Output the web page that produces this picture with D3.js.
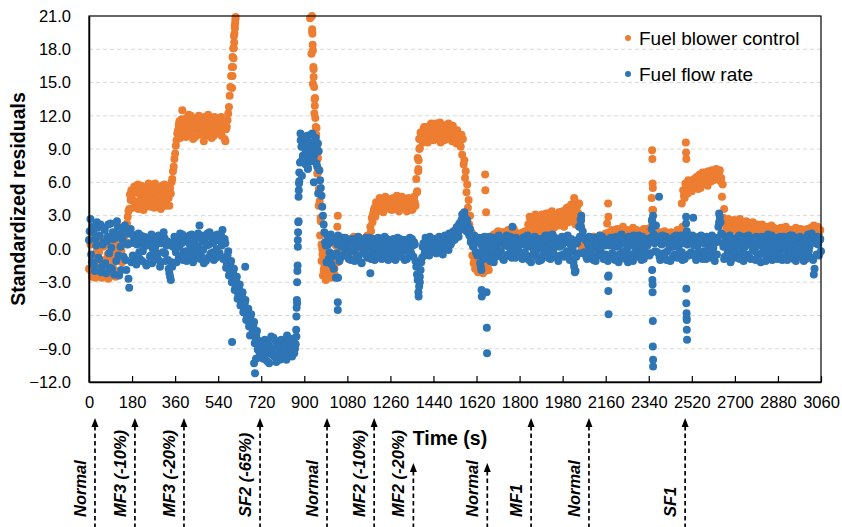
<!DOCTYPE html>
<html>
<head>
<meta charset="utf-8">
<script src="https://cdn.jsdelivr.net/npm/d3@7/dist/d3.min.js"></script>
<style>
  body { margin: 0; background: #fff; }
  svg { display: block; font-family: "Liberation Sans", Arial, sans-serif; }
</style>
</head>
<body>
<svg id="chart" width="842" height="527"></svg>
<script>
// Logged residuals. The "Even" arrays hold samples at t = 0, 6, 12 ... 3060 s,
// the "Odd" arrays the interleaved samples at t = 3, 9, 15 ... 3057 s.
// null = residual above the plotted range.
const sampleStep = 6;

const blowerEven = [
  -1.8, 0.4, -2.5, -0.6, -1.4, 0.9, -2.2, -0.3, -1.7, -2.6, 0.2, -1.0, -2.3, -0.5, -1.9, 0.6, -2.4, -1.2, -0.2, -2.0, 0.5, -0.4, 1.0, -1.2, 0.7, 1.2, 1.8, 2.9, 3.6, 4.4,
  4.9, 3.7, 5.4, 4.2, 5.8, 3.9, 4.6, 5.2, 3.5, 4.8, 5.6, 4.1, 5.0, 3.8, 5.5, 4.4, 5.9, 4.0, 5.3, 4.7, 3.6, 5.7, 4.3, 5.1, 4.5, 5.4, 3.9, 5.0, 6.3, 7.4,
  8.6, 9.8, 10.7, 11.5, 10.2, 12.5, 11.0, 10.6, 11.8, 10.3, 11.4, 12.0, 10.8, 11.2, 10.1, 11.7, 10.5, 11.9, 10.9, 11.3, 9.7, 11.6, 10.4, 12.1, 11.1, 10.7, 11.8, 10.2, 11.4, 10.9,
  11.2, 10.4, 11.9, 10.8, 11.5, 9.7, 11.0, 12.2, 13.8, 15.6, 17.3, 19.2, 20.7, null, null, null, null, null, null, null, null, null, null, null, null, null, null, null, null,
  null, null, null, null, null, null, null, null, null, null, null, null, null, null, null, null, null, null, null, null, null, null, null, null, null, null, null, null, null, null,
  null, null, null, null, null, 20.8, 17.6, 14.9, 12.2, 9.6, 6.8, 3.9, 1.2, -1.1, -2.4, -1.6, -2.7, -0.8, -2.1, -1.3, -2.6, -0.5, -1.8, 0.3, -0.7, 0.6, -0.4, 0.9, -0.2, 0.5,
  0.4, -0.6, 0.8, 0.1, -0.3, 1.0, -0.8, 0.5, 0.2, -0.5, 0.7, 0.0, 0.9, -0.4, 0.6, 1.2, 0.3, 2.0, 2.8, 3.2, 3.7, 4.2, 3.4, 4.0, 3.6, 4.5, 3.3, 4.1, 3.8, 4.4,
  3.9, 4.3, 3.5, 4.6, 4.0, 3.7, 4.4, 3.4, 4.1, 4.7, 3.8, 4.2, 3.6, 4.5, 3.9, 4.0, 3.5, 4.3, 4.2, 6.3, 8.2, 9.9, 10.5, 9.9, 10.8, 10.2, 11.0, 9.6, 10.6, 11.2,
  10.9, 9.8, 10.5, 11.1, 10.0, 10.7, 9.6, 11.2, 10.3, 10.8, 9.9, 10.6, 11.0, 10.2, 9.7, 10.5, 10.1, 9.5, 10.4, 9.8, 9.2, 8.5, 7.6, 6.4, 5.1, 3.7, 2.2, 0.9, -0.6, -1.3,
  -1.8, -0.7, -2.1, -1.2, -0.4, -1.6, -0.9, -2.0, -0.6, -1.4, 0.3, 0.9, 0.2, 1.3, 0.6, 1.0, 1.6, 0.4, 1.2, 0.8, 1.5, 0.5, 1.1, 1.7, 0.7, 1.3, 0.9, 1.8, 1.2, 1.4,
  0.9, 1.4, 0.6, 1.2, 1.0, 1.6, 0.8, 2.2, 2.9, 1.6, 2.5, 1.9, 3.1, 2.0, 2.7, 1.4, 2.4, 3.0, 1.8, 2.6, 2.2, 3.2, 1.7, 2.8, 2.3, 1.9, 3.0, 2.5, 2.1, 3.3,
  2.6, 3.4, 2.0, 2.9, 3.7, 2.4, 3.1, 4.0, 2.7, 4.6, 2.2, 3.8, 3.2, 0.8, 0.2, 0.7, -0.3, 0.5, 1.0, 0.3, 0.8, -0.1, 0.6, 1.1, 0.4, 0.9, 0.2, 1.2, 0.5, 0.7,
  0.9, 1.4, 2.3, 0.6, 1.1, 1.6, 0.8, 1.3, 0.5, 1.8, 1.0, 1.5, 0.7, 2.0, 1.2, 0.9, 1.7, 1.1, 0.6, 1.4, 1.9, 0.8, 1.3, 1.6, 1.0, 0.7, 1.5, 1.2, 0.9, 1.8,
  1.2, 0.8, 1.9, 4.6, 2.2, 1.0, 0.6, 1.3, 0.9, 1.5, 0.7, 1.1, 1.6, 0.5, 1.2, 0.8, 1.4, 1.0, 0.6, 1.3, 0.9, 1.7, 1.1, 0.7, 4.1, 5.3, 4.6, 5.8, 5.0, 5.5,
  5.9, 5.2, 6.1, 5.6, 6.4, 5.8, 6.2, 5.5, 6.6, 6.0, 6.9, 6.3, 5.7, 6.8, 6.4, 7.1, 6.2, 6.7, 7.2, 6.5, 6.9, 6.1, 4.7, 2.8, 2.3, 1.8, 2.5, 1.6, 2.2, 2.0,
  2.4, 1.7, 2.1, 1.5, 2.6, 1.9, 1.4, 2.2, 1.8, 2.5, 1.3, 2.0, 1.6, 2.3, 1.2, 1.9, 1.5, 2.1, 1.4, 1.8, 2.2, 1.3, 1.7, 1.1, 2.0, 1.5, 1.6, 1.2, 1.9, 1.4,
  1.7, 1.2, 1.5, 1.9, 1.1, 1.6, 1.3, 1.8, 1.0, 1.5, 1.2, 1.7, 1.4, 0.9, 1.6, 1.3, 1.1, 1.8, 1.4, 1.0, 1.5, 1.2, 1.7, 1.3, 1.9, 1.6, 2.1, 1.2, 1.5, 1.1,
  0.8
];

const blowerOdd = [
  0.8, -2.0, -0.9, 1.2, -2.6, -0.2, 0.5, -1.5, 0.9, -2.2, -1.1, 0.4, -1.8, -2.7, 0.7, -0.8, -1.6, 0.3, -2.5, -0.4, -1.0, 0.8, -0.2, 0.4, 1.5, 0.6, 2.3, 3.4, 4.9, 5.3,
  4.4, 5.6, 4.0, 5.1, 3.6, 4.9, 5.7, 4.3, 5.3, 3.8, 4.5, 5.9, 4.2, 5.2, 4.7, 3.7, 5.0, 5.6, 4.1, 5.4, 4.8, 4.0, 5.8, 3.9, 5.2, 4.6, 5.5, 6.0, 7.0, 8.1,
  9.3, 10.4, 11.2, 10.0, 11.7, 10.9, 11.5, 10.1, 11.0, 12.1, 10.6, 11.3, 9.9, 11.6, 10.8, 11.1, 12.0, 10.3, 11.5, 10.7, 11.9, 10.2, 11.3, 10.6, 11.7, 10.0, 11.2, 11.9, 10.5, 11.6,
  10.9, 11.7, 10.2, 11.3, 9.9, 10.8, 11.6, 12.8, 14.6, 16.4, 18.1, 20.1, null, null, null, null, null, null, null, null, null, null, null, null, null, null, null, null, null, null,
  null, null, null, null, null, null, null, null, null, null, null, null, null, null, null, null, null, null, null, null, null, null, null, null, null, null, null, null, null, null,
  null, null, null, null, null, 19.6, 16.2, 13.6, 10.9, 8.2, 5.3, 2.5, 0.0, -1.9, -2.2, -2.5, -1.4, -2.3, -0.9, -2.0, -1.5, -2.4, -0.6, -1.2, 0.2, -0.8, 0.4, -0.5, 0.8, -0.1,
  -0.3, 0.9, -0.5, 0.6, 1.1, -0.2, 0.4, -0.7, 1.0, 0.3, -0.4, 0.8, 0.1, 1.1, -0.6, 0.5, 1.6, 2.4, 3.5, 2.9, 4.0, 3.6, 4.6, 3.8, 4.3, 3.5, 4.7, 3.9, 4.2, 3.6,
  4.5, 3.6, 4.2, 3.9, 4.8, 3.5, 4.1, 4.6, 3.7, 4.3, 4.0, 3.4, 4.6, 3.8, 4.4, 3.6, 4.7, 3.9, 5.1, 7.2, 9.1, 10.3, 9.6, 11.0, 10.4, 9.8, 10.9, 10.3, 11.3, 10.1,
  10.3, 11.3, 9.9, 10.7, 11.4, 10.1, 10.8, 9.8, 11.1, 10.4, 11.3, 10.0, 10.6, 11.1, 10.4, 9.8, 10.7, 10.2, 9.7, 10.3, 9.9, 8.0, 7.0, 5.8, 4.4, 3.0, 1.5, 0.2, -1.0, -0.4,
  -0.9, -1.9, -0.5, -1.5, -2.2, -0.8, -1.7, -1.1, -1.9, -0.3, 0.6, 1.1, 0.5, 1.4, 0.8, 1.2, 0.3, 1.5, 1.0, 0.6, 1.3, 0.9, 1.6, 0.4, 1.2, 1.0, 1.5, 0.8, 1.4, 1.0,
  1.2, 0.7, 1.5, 0.9, 1.3, 1.1, 1.8, 2.6, 1.9, 2.8, 2.1, 2.7, 1.6, 2.9, 2.3, 3.1, 1.8, 2.6, 3.2, 2.1, 2.9, 2.4, 3.4, 2.0, 3.0, 2.6, 2.2, 3.3, 2.7, 2.3,
  3.1, 2.3, 3.6, 2.8, 3.0, 3.9, 2.5, 3.5, 4.3, 3.3, 2.9, 4.1, 2.4, 0.5, 0.9, 0.1, 0.8, 0.4, -0.2, 0.9, 0.5, 1.1, 0.3, 0.7, 1.0, 0.2, 0.8, 0.6, 1.1, 0.4,
  1.2, 0.7, 1.5, 1.0, 1.7, 0.8, 1.4, 1.1, 1.6, 0.9, 1.3, 1.8, 1.0, 1.4, 0.8, 1.6, 1.2, 0.7, 1.5, 1.1, 1.3, 1.7, 0.9, 1.2, 1.5, 1.0, 1.8, 0.8, 1.4, 1.1,
  0.9, 1.4, 3.5, 2.0, 1.2, 0.8, 1.4, 1.0, 1.2, 0.9, 1.5, 0.8, 1.3, 1.0, 0.7, 1.5, 1.1, 0.8, 1.4, 1.0, 1.3, 0.9, 1.5, 2.0, 4.8, 5.9, 5.1, 6.2, 5.4, 6.0,
  5.6, 6.3, 5.9, 6.5, 5.4, 6.7, 6.0, 6.9, 6.2, 6.6, 5.9, 7.0, 6.5, 6.1, 6.9, 6.6, 7.0, 6.3, 6.8, 7.1, 6.4, 5.8, 3.6, 2.6, 2.1, 2.7, 1.9, 2.4, 1.8, 2.6,
  1.9, 2.3, 1.6, 2.7, 1.8, 2.2, 2.0, 1.5, 2.3, 1.7, 2.1, 1.4, 2.4, 1.8, 1.6, 2.2, 1.3, 1.9, 1.7, 2.0, 1.5, 1.9, 1.2, 1.8, 1.4, 2.1, 1.3, 1.7, 1.5, 1.8,
  1.4, 1.8, 1.1, 1.6, 1.3, 2.0, 1.2, 1.5, 1.7, 1.1, 1.6, 1.3, 1.9, 1.2, 1.5, 1.0, 1.7, 1.3, 1.6, 1.2, 1.8, 1.4, 1.1, 1.6, 1.4, 1.8, 1.5, 2.0, 1.3, 1.7
];

const flowEven = [
  0.8, 2.7, -1.2, 1.5, -2.0, 0.3, 1.9, -0.9, 2.2, -1.6, 0.6, 1.7, -2.2, 1.1, -0.4, 2.3, -1.8, 0.9, 1.4, -1.1, 2.0, -2.4, 0.2, 1.6, -0.7, 2.1, -1.9, 0.4, -3.5, 1.8,
  1.3, -0.8, 0.5, -1.4, 0.9, -0.3, 1.2, -1.1, 0.2, 0.8, -1.5, 0.4, 1.0, -0.6, -1.3, 0.7, 0.1, 1.1, -0.9, 0.5, -1.2, 0.9, 1.5, -0.4, 0.3, -1.0, -2.2, -2.8, -1.6, 0.6,
  0.4, -1.2, 1.0, 0.2, -0.7, 1.3, -0.3, 0.8, -1.1, 0.6, 1.2, -0.5, 0.1, -0.9, 0.9, -0.2, 1.4, 2.1, -0.6, 0.7, -1.3, 1.1, 0.3, -0.8, 1.5, -0.4, 0.5, -1.0, 1.2, 0.0,
  0.8, -0.4, 1.2, 1.7, -0.8, 0.5, -1.3, -0.2, -2.0, -1.1, -2.7, -1.8, -3.3, -2.5, -4.1, -3.2, -4.8, -3.9, -5.3, -4.6, -6.1, -5.4, -6.8, -5.9, -7.3, -6.6, -8.0, -7.4, -8.8, -9.5,
  -9.2, -8.4, -9.8, -8.9, -10.1, -8.6, -9.4, -7.9, -9.0, -9.7, -8.3, -9.1, -8.7, -10.0, -8.2, -9.5, -8.8, -9.3, -7.8, -9.6, -8.5, -9.0, -8.1, -9.4, -8.6, -4.9, 2.5, 7.8, 9.2, 8.4,
  9.4, 7.6, 10.2, 8.3, 9.6, 7.9, 9.1, 8.5, 10.0, 7.4, 8.8, 6.2, 4.8, 3.0, 1.5, 0.3, 1.2, -0.9, 0.6, -1.4, 0.9, -0.5, -2.6, 0.4, 1.1, -0.8, 0.2, 1.0, -0.6, 0.5,
  0.3, -0.9, 0.8, -0.2, 0.5, -1.1, 0.1, 0.9, -0.6, 0.4, -1.3, 0.7, -0.1, 1.0, -0.8, 0.2, -2.2, -0.4, 0.9, -1.0, 0.3, -0.5, 0.8, 0.0, -0.9, 0.5, 1.1, -0.3, 0.4, -0.7,
  0.5, -0.4, 0.9, -0.8, 0.2, 1.0, -0.6, 0.4, -0.2, 0.8, -1.0, 0.3, 0.7, -0.5, 0.1, 0.9, -0.7, 0.4, -1.6, -2.8, -3.4, -1.9, -0.8, 0.5, -0.3, 0.8, 0.2, -0.6, 0.9, 0.1,
  0.3, 0.9, -0.4, 0.6, 1.1, -0.2, 0.8, 0.3, 1.2, 0.0, 0.7, 1.4, 0.4, 1.0, 1.6, 0.9, 1.9, 1.4, 2.3, 1.8, 3.1, 2.4, 2.8, 1.6, 2.1, 1.2, 0.6, 1.0, 0.2, 0.8,
  0.6, -0.5, 1.0, -1.6, 0.2, -0.9, 0.8, -0.3, 0.5, 1.1, -0.7, 0.4, -1.2, 0.9, 0.1, -0.6, 1.0, -0.2, 0.7, -1.0, 0.3, 1.2, -0.5, 0.6, -0.1, 2.0, 0.4, -0.8, 0.9, 0.2,
  -0.3, 0.8, -0.9, 0.4, 1.1, -0.6, 0.2, 0.9, -1.2, 0.5, -0.1, 1.0, -0.7, 0.3, 0.8, -1.0, 0.6, -0.4, 1.2, 0.1, -0.8, 0.7, -0.2, 1.3, -0.5, 0.4, 0.9, -1.1, 0.2, 0.7,
  0.4, -0.7, 1.0, -0.2, 0.6, -1.0, 0.9, 0.1, -1.6, -2.0, 0.5, -0.4, 1.1, 3.0, 1.6, -0.3, 0.8, -0.9, 0.3, 1.0, -0.6, 0.2, 0.7, -1.1, 0.5, -0.2, 1.2, -0.5, 0.4, 0.9,
  -0.5, 0.8, -2.4, 0.3, -0.8, 1.0, 0.2, -0.6, 0.9, -1.2, 0.4, 1.3, -0.3, 0.7, -0.9, 0.1, 1.1, -0.5, 0.6, -1.1, 0.9, 0.2, -0.7, 1.2, 0.0, -1.0, 0.5, 0.8, -0.4, 0.3,
  0.6, -0.4, 1.8, 3.0, 0.5, 2.1, -0.3, 0.9, -1.0, 0.4, 0.8, -0.6, 1.1, -0.2, 0.5, -1.1, 0.9, 0.2, -0.5, 1.2, -0.8, 0.3, 0.7, -0.3, 1.0, -0.9, 2.9, 0.4, -0.6, 0.8,
  -0.4, 2.8, 0.6, -1.0, 0.3, 1.1, -0.5, 0.8, -0.2, 1.0, -0.9, 0.4, 0.7, -0.6, 1.2, 0.1, -1.1, 0.6, 0.9, 3.2, 2.4, 1.3, 0.2, -0.7, 1.0, -0.3, 0.5, -1.2, 0.8, 0.0,
  0.7, -0.8, 0.3, 1.2, -0.4, 0.9, -1.1, 0.2, 0.6, -0.5, 1.0, -0.9, 0.4, 0.8, -0.2, 1.1, -0.7, 0.3, -1.2, 0.9, 0.1, 0.6, -0.6, 1.3, -0.3, 0.5, -1.0, 0.8, 0.2, -0.4,
  0.9, -0.5, 0.4, -1.0, 1.1, 0.2, -0.6, 0.8, -0.3, 0.5, 1.2, -0.9, 0.3, -0.2, 1.0, -0.7, 0.6, 0.1, -1.1, 0.9, -0.4, 1.3, 0.2, -0.8, 0.7, -2.3, 1.0, -0.5, 0.4, 0.8,
  -0.2
];

const flowOdd = [
  1.6, -0.5, 2.0, -1.5, 0.9, 2.4, -0.8, 1.2, -2.1, 0.4, 1.9, -1.3, 0.7, 2.2, -1.7, 0.1, 1.5, -2.3, 1.0, 2.5, -0.6, 1.3, -1.9, 0.8, 2.0, -1.0, 1.4, -2.7, 0.5, -1.2,
  -0.6, 1.0, -1.2, 0.4, 1.4, -0.9, 0.6, -0.2, 1.1, -1.3, 0.3, 0.9, -0.7, 1.3, 0.0, -1.0, 0.8, -0.4, 1.2, -1.6, 0.5, -0.3, 1.0, -1.1, 0.7, -1.8, -2.5, -1.2, 0.2, 1.1,
  -0.3, 0.9, -0.8, 1.4, 0.5, -1.0, 0.7, -0.2, 1.1, -0.6, 0.3, 1.3, -1.2, 0.6, -0.4, 1.0, 0.2, -0.9, 1.2, -0.1, 0.8, -1.1, 1.4, 0.4, -0.5, 1.0, -0.3, 0.7, -0.8, 1.3,
  -0.6, 1.0, 0.3, -0.9, 0.9, -1.7, -0.6, -2.4, -1.4, -3.0, -2.2, -3.7, -2.9, -4.5, -3.5, -5.1, -4.2, -5.7, -4.9, -6.4, -5.7, -7.0, -6.3, -7.7, -7.0, -8.5, -7.8, -9.1, -8.3, -9.8,
  -8.7, -9.9, -8.2, -9.3, -8.5, -10.3, -8.9, -9.5, -8.0, -9.2, -10.2, -8.6, -9.4, -8.3, -9.8, -8.7, -9.1, -10.0, -8.4, -9.2, -8.8, -9.7, -8.3, -9.0, -7.9, 0.2, 6.1, 9.8, 8.0, 10.1,
  8.2, 9.9, 7.3, 9.0, 8.6, 10.4, 8.0, 9.3, 7.7, 9.5, 7.1, 5.5, 3.8, 2.2, 0.6, -1.2, 0.4, -0.3, 1.3, -0.7, -1.8, 0.8, -0.4, 1.2, -1.1, 0.3, 0.9, -0.5, 1.0, -0.2,
  -0.4, 0.6, -1.0, 0.9, -0.2, 0.4, -0.7, 1.1, 0.2, -1.2, 0.6, -0.3, 0.8, -0.6, 0.3, 1.0, -0.9, 0.5, -0.1, 0.7, -0.8, 1.0, -0.4, 0.6, 0.2, -0.6, 0.3, 0.9, -1.0, 0.5,
  -0.2, 0.7, 0.1, -1.0, 0.6, -0.3, 0.9, -0.7, 0.5, -0.1, 0.8, -0.9, 0.2, 1.0, -0.4, 0.3, 0.6, -1.1, -2.3, -3.9, -2.5, -1.2, 0.2, -0.6, 1.0, -0.2, 0.6, 1.1, -0.3, 0.7,
  0.8, -0.3, 0.5, 1.0, 0.1, 0.7, -0.5, 1.1, 0.4, 0.9, -0.1, 1.2, 0.6, 1.5, 0.8, 1.3, 2.0, 1.1, 1.7, 2.6, 2.2, 3.3, 1.9, 2.6, 1.4, 1.8, 0.9, 0.3, 1.2, -0.3,
  -0.6, 0.9, -1.3, 0.4, -0.3, 1.1, -0.8, 0.6, 0.0, -1.1, 0.8, -0.4, 1.0, -0.7, 0.5, 1.2, -0.3, 0.9, -0.9, 0.4, 1.0, -0.6, 0.2, 1.1, -0.8, 0.6, -0.2, 1.0, -0.5, 0.7,
  0.6, -0.7, 1.0, -0.3, 0.5, 1.2, -1.0, 0.3, 0.8, -0.5, 1.1, -0.2, 0.6, -1.1, 0.9, 0.1, -0.6, 1.0, -0.4, 0.7, 1.2, -0.9, 0.4, -0.1, 1.0, -0.7, 0.3, 0.8, -0.6, 1.1,
  -0.5, 0.9, -0.3, 1.2, -0.8, 0.4, -0.2, -1.2, -2.1, -0.7, 0.8, 2.0, 2.6, 1.1, -0.4, 0.9, -0.7, 0.5, 1.1, -0.3, 0.6, -1.0, 1.0, 0.2, -0.6, 0.8, -0.2, 1.1, -0.9, 0.3,
  0.7, -1.1, 0.4, 1.0, -0.4, 0.6, -1.0, 1.1, 0.2, -0.5, 0.8, -0.8, 1.0, -0.2, 0.5, -1.2, 0.9, 0.3, -0.7, 1.2, -0.3, 0.6, 1.0, -0.6, 0.4, 1.1, -0.9, 0.2, 0.9, -0.5,
  -0.6, 1.0, 2.4, 1.3, -0.2, 0.8, 1.1, -0.7, 0.5, 1.2, -0.4, 0.7, -1.0, 0.9, 0.1, 0.6, -0.8, 1.1, 0.3, -0.6, 0.9, -0.2, 1.2, -1.0, 0.5, 0.8, 1.6, -0.5, 1.0, -0.3,
  1.2, 0.3, -0.7, 1.0, -0.3, 0.6, 1.2, -0.9, 0.5, -0.4, 1.1, 0.2, -0.8, 0.9, -0.2, 0.7, 1.0, -0.5, 2.0, 2.9, 1.4, 0.5, -0.9, 1.1, 0.3, -0.6, 1.2, 0.4, -0.8, 0.9,
  -0.3, 1.0, 0.5, -0.9, 0.8, -0.2, 1.1, -0.6, 0.4, 1.2, -0.8, 0.6, -0.1, 1.0, -1.0, 0.3, 0.9, -0.5, 1.1, -0.3, 0.7, -1.1, 0.8, 0.2, -0.7, 1.2, 0.4, -0.4, 1.0, -0.9,
  -0.2, 1.1, -0.8, 0.6, 0.0, 1.0, -1.0, 0.4, 1.2, -0.6, 0.2, 0.9, -1.1, 0.7, -0.3, 1.1, -0.5, 0.8, 0.3, -0.9, 1.0, -0.2, 0.6, 1.4, -1.0, -1.8, 0.5, 1.1, -0.6, 0.9
];

// Additional samples logged during fast transients: [time (s), residual]
const blowerTransients = [
  [598, 14.5], [600, 15.6], [602, 16.4], [604, 17.2], [605, 18.1], [607, 18.6], [608, 19.4], [610, 19.9], [611, 20.4], [613, 20.9],
  [932, 21.0], [933, 19.8], [934, 19.4], [935, 18.4], [936, 17.9], [938, 16.4], [939, 15.5], [941, 14.6], [943, 13.5], [944, 12.9],
  [946, 11.8], [948, 11.0], [950, 10.3], [952, 9.2], [955, 8.1], [958, 6.9], [961, 5.4], [964, 4.3], [968, 2.8], [972, 0.4], [976, -0.5], [990, -2.8],
  [1038, 2.0], [1040, 3.0],
  [1372, 5.2], [1376, 7.0], [1378, 8.0], [1381, 9.0],
  [1656, 6.7], [1657, 5.3], [1660, 3.3],
  [2170, 4.1], [2171, 2.9],
  [2354, 8.9], [2355, 8.1], [2356, 5.9], [2357, 5.5], [2358, 3.5],
  [2495, 9.6], [2496, 8.7], [2497, 8.1]
];

const flowTransients = [
  [598, -8.4], [653, -1.6], [673, -7.8], [690, -10.3], [694, -11.2], [698, -9.9],
  [866, -7.3], [867, -6.1], [868, -5.3], [869, -4.6], [870, -3.0], [871, -2.0], [872, -1.5], [873, 0.8], [874, 1.5], [875, 2.4],
  [876, 4.7], [877, 5.3], [878, 5.9], [879, 6.9],
  [884, 10.4], [890, 6.6], [896, 9.9], [905, 8.9], [915, 7.2], [927, 10.3], [940, 6.0], [952, 9.3], [958, 5.0],
  [1040, -4.8], [1040, -5.5], [1041, -2.6],
  [1378, -4.3], [1383, -3.0],
  [1640, -1.9], [1641, -3.7], [1642, -4.3], [1662, -3.9], [1663, -7.1], [1664, -9.4],
  [2057, 2.6], [2057, 2.0],
  [2170, -2.5], [2171, -3.8], [2172, -5.9],
  [2353, 2.6], [2354, -1.9], [2355, -2.8], [2356, -3.2], [2356, -3.9], [2357, -6.5], [2357, -8.8], [2358, -10.0], [2358, -10.6], [2383, 4.7],
  [2496, 2.3], [2497, -3.6], [2497, -4.9], [2498, -5.8], [2498, -6.2], [2499, -6.4], [2499, -7.3], [2500, -8.2],
  [2634, 2.4]
];

const seriesNames = ["Fuel blower control", "Fuel flow rate"];
const xTickValues = [0, 180, 360, 540, 720, 900, 1080, 1260, 1440, 1620, 1800, 1980, 2160, 2340, 2520, 2700, 2880, 3060];
const yTickValues = [-12, -9, -6, -3, 0, 3, 6, 9, 12, 15, 18, 21];

// Operating-condition events marked under the time axis
const eventLabels = ["Normal", "MF3 (-10%)", "MF3 (-20%)", "SF2 (-65%)", "Normal", "MF2 (-10%)", "MF2 (-20%)", "Normal", "MF1", "Normal", "SF1"];
const eventTimes = [25, 192, 397, 715, 995, 1192, 1356, 1665, 1848, 2090, 2492];

// ---------------------------------------------------------------------------
const W = 842, H = 527;
const plot = { left: 89, right: 821, top: 16, bottom: 382 };
const colors = ["#ED7D31", "#2E75B6"];

const svg = d3.select("#chart");

const x = d3.scaleLinear().domain([0, 3060]).range([plot.left, plot.right]);
const y = d3.scaleLinear().domain([-12, 21]).range([plot.bottom, plot.top]);

function toPoints(even, odd, transients) {
  const pts = [];
  even.forEach((v, i) => pts.push({ t: i * sampleStep, v }));
  odd.forEach((v, i) => pts.push({ t: i * sampleStep + sampleStep / 2, v }));
  transients.forEach(([t, v]) => pts.push({ t, v }));
  pts.sort((a, b) => a.t - b.t);
  return pts.filter(d => d.v !== null && d.v >= -12 && d.v <= 21);
}
const series = [
  toPoints(blowerEven, blowerOdd, blowerTransients),
  toPoints(flowEven, flowOdd, flowTransients)
];

// horizontal grid
svg.append("g")
  .selectAll("line")
  .data(yTickValues.filter(v => v > -12 && v < 21))
  .join("line")
  .attr("x1", plot.left).attr("x2", plot.right)
  .attr("y1", d => y(d)).attr("y2", d => y(d))
  .attr("stroke", "#d9d9d9")
  .attr("stroke-width", 1)
  .attr("stroke-dasharray", "4,3");

// scatter marks: blower first, flow rate drawn on top
series.forEach((pts, k) => {
  svg.append("g")
    .selectAll("circle")
    .data(pts)
    .join("circle")
    .attr("cx", d => x(d.t))
    .attr("cy", d => y(d.v))
    .attr("r", 4)
    .attr("fill", colors[k]);
});

// plot frame
svg.append("rect")
  .attr("x", plot.left).attr("y", plot.top)
  .attr("width", plot.right - plot.left).attr("height", plot.bottom - plot.top)
  .attr("fill", "none").attr("stroke", "#000").attr("stroke-width", 1.2);

// x axis: inward ticks, labels underneath
const xAxis = svg.append("g").attr("transform", `translate(0,${plot.bottom})`)
  .call(d3.axisBottom(x).tickValues(xTickValues).tickSizeInner(-6).tickSizeOuter(0).tickPadding(14).tickFormat(d3.format("d")));
xAxis.select(".domain").attr("stroke", "#000").attr("stroke-width", 1.5);
xAxis.selectAll(".tick line").attr("stroke", "#000").attr("stroke-width", 1.2);
xAxis.selectAll(".tick text")
  .attr("font-family", "Liberation Sans, Arial, sans-serif")
  .attr("font-size", 16.5).attr("fill", "#000");

// y axis: labels only
const yAxis = svg.append("g").attr("transform", `translate(${plot.left},0)`)
  .call(d3.axisLeft(y).tickValues(yTickValues).tickSize(0).tickPadding(18).tickFormat(d3.format(".1f")));
yAxis.select(".domain").attr("stroke", "#000").attr("stroke-width", 1.5);
yAxis.selectAll(".tick text")
  .attr("font-family", "Liberation Sans, Arial, sans-serif")
  .attr("font-size", 16.5).attr("fill", "#000");

// axis titles
svg.append("text")
  .attr("transform", `translate(25,${(plot.top + plot.bottom) / 2}) rotate(-90)`)
  .attr("text-anchor", "middle")
  .attr("font-weight", "bold").attr("font-size", 19.5)
  .text("Standardized residuals");

svg.append("text")
  .attr("x", 450).attr("y", 445)
  .attr("text-anchor", "middle")
  .attr("font-weight", "bold").attr("font-size", 19.5)
  .text("Time (s)");

// legend
const legend = svg.append("g");
seriesNames.forEach((name, k) => {
  const ly = 38 + k * 36;
  legend.append("circle").attr("cx", 628).attr("cy", ly).attr("r", 3).attr("fill", colors[k]);
  legend.append("text").attr("x", 639).attr("y", ly + 7)
    .attr("font-size", 19).attr("fill", "#000").text(name);
});

// event arrows with rotated labels
const shortArrows = new Set([6, 7]);
const events = svg.append("g");
eventLabels.forEach((label, i) => {
  const ex = x(eventTimes[i]);
  const tip = shortArrows.has(i) ? 463 : 418;
  events.append("path")
    .attr("d", `M${ex},${tip} L${ex - 3.5},${tip + 9} L${ex + 3.5},${tip + 9} Z`)
    .attr("fill", "#000");
  events.append("line")
    .attr("x1", ex).attr("x2", ex)
    .attr("y1", tip + 8).attr("y2", H)
    .attr("stroke", "#000").attr("stroke-width", 1.7)
    .attr("stroke-dasharray", "4.5,3");
  events.append("text")
    .attr("transform", `translate(${ex - 9},517) rotate(-90)`)
    .attr("font-weight", "bold").attr("font-style", "italic")
    .attr("font-size", 16.5).attr("fill", "#000")
    .text(label);
});
</script>
</body>
</html>
